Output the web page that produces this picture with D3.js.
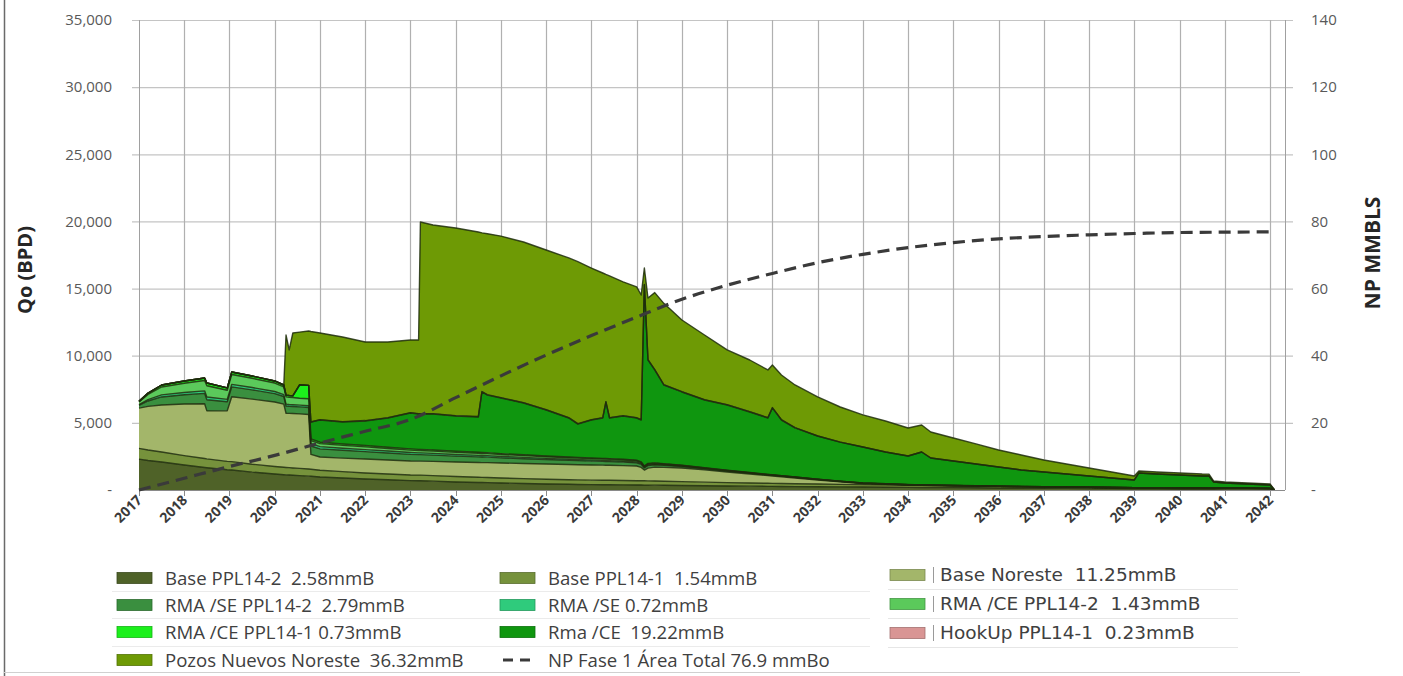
<!DOCTYPE html>
<html><head><meta charset="utf-8">
<script src="https://cdn.jsdelivr.net/npm/d3@7"></script>
<style>
body{margin:0;background:#fff;}
svg{display:block;}
text{font-family:"Open Sans","Noto Sans",sans-serif;}
</style>
</head><body>
<svg id="c" width="1403" height="676"></svg>
<script>
// ---- time grid (decimal years) ----
const t = [2017.0,2017.2,2017.5,2018.0,2018.45,2018.5,2018.95,2019.05,2019.5,2020.0,
2020.2,2020.25,2020.32,2020.4,2020.55,2020.75,2020.8,2021.0,2021.5,2022.0,
2022.5,2023.0,2023.18,2023.22,2023.5,2024.0,2024.5,2024.58,2024.7,2025.0,
2025.5,2026.0,2026.5,2026.7,2027.0,2027.25,2027.32,2027.4,2027.7,2028.0,
2028.1,2028.17,2028.25,2028.4,2028.6,2029.0,2029.5,2030.0,2030.5,2030.9,
2031.0,2031.2,2031.5,2032.0,2032.5,2033.0,2033.5,2034.0,2034.3,2034.5,
2035.0,2035.5,2036.0,2036.5,2037.0,2037.5,2038.0,2038.5,2039.0,2039.1,
2039.5,2040.0,2040.5,2040.65,2040.75,2041.0,2041.5,2042.0,2042.1];

// ---- series (BPD) ----
const basePPL14_2 = [2300,2200,2080,1860,1680,1660,1510,1490,1330,1190,
1140,1130,1120,1100,1070,1030,1020,970,890,820,
760,700,690,690,660,600,560,555,550,520,
485,450,425,415,400,395,393,390,380,370,
368,366,364,360,350,330,315,300,285,272,
270,265,255,245,232,220,208,195,190,185,
175,165,150,140,130,120,110,100,90,88,
82,75,70,68,66,64,62,60,0];
const basePPL14_1 = [800,780,750,700,665,660,625,620,590,560,
550,548,546,543,537,530,528,500,475,450,
435,420,418,418,410,400,388,386,383,375,
362,350,342,340,335,333,332,331,326,320,
319,318,316,312,305,290,270,250,238,228,
225,221,212,200,190,180,170,160,155,152,
145,135,120,112,105,100,95,90,85,84,
82,80,75,74,73,70,65,60,0];
const baseNoreste = [3000,3250,3500,3840,4080,3570,3760,4830,4850,4800,
4700,4040,4040,4050,4060,4065,1100,990,1010,1040,
1040,1040,1040,1040,1060,1085,1100,1100,1102,1115,
1125,1136,1132,1130,1127,1124,1123,1122,1110,1097,
1000,800,950,1030,1030,1020,910,790,670,570,
548,500,430,300,180,80,50,20,10,5,
0,0,0,0,0,0,0,0,0,0,
0,0,0,0,0,0,0,0,0];
const rmaSE_PPL14_2 = [200,400,600,690,770,830,680,740,690,630,
570,540,530,530,520,520,630,605,580,550,
520,495,485,485,470,440,418,415,413,385,
358,330,308,300,286,278,275,272,258,236,
220,165,192,176,154,110,88,72,60,52,
51,48,44,36,30,25,21,17,15,14,
11,8,6,3,2,0,0,0,0,0,
0,0,0,0,0,0,0,0,0];
const rmaSE = [50,100,150,170,190,210,170,185,170,155,
145,135,135,130,130,130,170,165,155,150,
145,135,130,130,128,120,114,113,112,105,
97,90,84,82,78,76,75,74,71,65,
60,45,53,48,42,30,24,20,17,14,
14,13,12,10,8,7,6,4,4,4,
3,2,1,1,0,0,0,0,0,0,
0,0,0,0,0,0,0,0,0];
const rmaCE_PPL14_2 = [200,390,590,690,765,830,685,740,690,630,
570,540,530,530,520,520,230,220,210,200,
190,180,177,177,170,160,152,151,150,140,
130,120,112,109,104,101,100,99,94,86,
80,60,70,64,56,40,32,26,22,19,
18,18,16,13,11,9,7,6,5,5,
4,3,2,1,1,0,0,0,0,0,
0,0,0,0,0,0,0,0,0];
const rmaCE_PPL14_1 = [50,100,150,170,190,210,170,185,170,155,
145,135,135,130,1000,1000,120,110,105,100,
95,90,88,88,82,80,76,76,75,70,
65,60,56,54,52,50,50,50,47,43,
40,30,35,32,28,20,16,12,11,10,
9,9,8,6,6,4,4,3,3,2,
2,2,1,1,0,0,0,0,0,0,
0,0,0,0,0,0,0,0,0];
const rmaCE = [0,0,0,0,0,0,0,0,0,0,
0,0,0,0,0,0,1262,1650,1635,1830,
2175,2670,2632,2632,2680,2625,2632,4504,4285,4140,
3858,3424,2901,2480,2828,3003,4202,3022,3224,3143,
3123,13486,7700,6918,5855,5460,5045,4860,4507,4195,
4975,4136,3643,3210,2913,2675,2364,2125,2448,2013,
1820,1625,1430,1232,1102,970,835,700,570,1098,
1026,965,895,898,461,386,323,250,0];
const hookUp = [0,0,0,0,0,0,0,0,0,0,
0,0,0,0,0,0,0,30,30,30,
30,30,30,30,30,30,30,30,30,30,
30,30,30,30,30,30,30,30,30,30,
30,30,30,30,30,30,30,30,30,30,
30,30,30,0,0,0,0,0,0,0,
0,0,0,0,0,0,0,0,0,0,
0,0,0,0,0,0,0,0,0];
const pozosNuevos = [0,0,0,0,0,0,0,0,0,0,
0,4472,3394,4677,3923,4045,6740,6450,6300,5850,
5630,5410,5480,14270,14040,13970,13740,11820,11980,12030,
11960,11880,11890,12060,11290,10770,9470,10550,9960,9730,
9280,1230,4590,5730,6050,5330,4810,4070,3840,3550,
3170,3320,3170,2910,2610,2390,2310,2090,2010,1940,
1710,1490,1270,1120,890,750,600,450,295,140,
150,150,150,140,70,80,70,80,0];

// cumulative NP (MMBLS)
const npYears = [2017,2018,2019,2020,2021,2022,2023,2024,2025,2026,2027,2028,2029,
2030,2031,2032,2033,2034,2035,2036,2037,2038,2039,2040,2041,2042];
const npValues = [0,3.5,7.0,10.3,14.0,17.5,21.0,27.5,34.0,40.2,46.0,51.5,56.8,
61.0,64.5,67.7,70.2,72.2,73.7,74.8,75.5,76.0,76.4,76.7,76.8,76.9];

const seriesKeys = ["basePPL14_2","basePPL14_1","baseNoreste","rmaSE_PPL14_2","rmaSE",
  "rmaCE_PPL14_2","rmaCE_PPL14_1","rmaCE","hookUp","pozosNuevos"];
const seriesArrays = [basePPL14_2,basePPL14_1,baseNoreste,rmaSE_PPL14_2,rmaSE,
  rmaCE_PPL14_2,rmaCE_PPL14_1,rmaCE,hookUp,pozosNuevos];
const seriesLabels = ["Base PPL14-2  2.58mmB","Base PPL14-1  1.54mmB","Base Noreste  11.25mmB",
  "RMA /SE PPL14-2  2.79mmB","RMA /SE 0.72mmB","RMA /CE PPL14-2  1.43mmB",
  "RMA /CE PPL14-1 0.73mmB","Rma /CE  19.22mmB","HookUp PPL14-1  0.23mmB",
  "Pozos Nuevos Noreste  36.32mmB"];
const seriesColors = ["#4f6228","#76923c","#a3b66a","#3a8f3f","#2fcb7c",
  "#5bc95b","#1cf01c","#0f960f","#d99594","#6e9a05"];
const npLabel = "NP Fase 1 Área Total 76.9 mmBo";

const leftTicks = [0,5000,10000,15000,20000,25000,30000,35000];
const rightTicks = [0,20,40,60,80,100,120,140];
const yearTicks = d3.range(2017, 2043);

// ---- build table ----
const table = t.map((yr,i)=>{
  const row = {yr};
  seriesKeys.forEach((k,j)=> row[k] = seriesArrays[j][i]);
  return row;
});
const stacked = d3.stack().keys(seriesKeys)(table);

const svg = d3.select("#c");
const x = d3.scaleLinear().domain([2017, 2042.33]).range([139, 1285]);
const y = d3.scaleLinear().domain([0, 35000]).range([490, 20]);
const y2 = d3.scaleLinear().domain([0, 140]).range([490, 20]);

// outer frame lines
svg.append("line").attr("x1",4.5).attr("x2",4.5).attr("y1",0).attr("y2",676)
  .attr("stroke","#6a6a6a").attr("stroke-width",1.5);
svg.append("line").attr("x1",4).attr("x2",1300).attr("y1",672.5).attr("y2",672.5)
  .attr("stroke","#d0d0d0").attr("stroke-width",1);

// gridlines
const grid = svg.append("g");
grid.selectAll("line.h").data(leftTicks.slice(1)).join("line")
  .attr("x1",132).attr("x2",1293)
  .attr("y1",d=>y(d)+0.5).attr("y2",d=>y(d)+0.5)
  .attr("stroke","#c4c4c4").attr("stroke-width",1.2);
grid.selectAll("line.v").data(yearTicks.slice(1)).join("line")
  .attr("x1",d=>Math.round(x(d))+0.5).attr("x2",d=>Math.round(x(d))+0.5)
  .attr("y1",20).attr("y2",490)
  .attr("stroke","#b0b0b0").attr("stroke-width",1.2);
svg.append("line").attr("x1",139.5).attr("x2",139.5).attr("y1",20).attr("y2",490).attr("stroke","#a0a0a0");
svg.append("line").attr("x1",1285.5).attr("x2",1285.5).attr("y1",20).attr("y2",490).attr("stroke","#a0a0a0");

// areas
const area = d3.area().x(d=>x(d.data.yr)).y0(d=>y(d[0])).y1(d=>y(d[1]));
const topLine = d3.line().x(d=>x(d.data.yr)).y(d=>y(d[1]));
const layers = svg.append("g");
stacked.forEach((s,i)=>{
  layers.append("path").attr("d",area(s)).attr("fill",seriesColors[i]);
});
stacked.forEach((s,i)=>{
  layers.append("path").attr("d",topLine(s)).attr("fill","none")
    .attr("stroke","#1d2b0c").attr("stroke-width",1.4).attr("stroke-opacity",0.85)
    .attr("stroke-linejoin","round");
});

// bottom axis line + ticks
svg.append("line").attr("x1",139).attr("x2",1285).attr("y1",490.5).attr("y2",490.5).attr("stroke","#8a8a8a");
svg.append("g").selectAll("line").data(yearTicks).join("line")
  .attr("x1",d=>Math.round(x(d))+0.5).attr("x2",d=>Math.round(x(d))+0.5)
  .attr("y1",490).attr("y2",496).attr("stroke","#8a8a8a");

// NP dashed line
const npLine = d3.line().x((d,i)=>x(npYears[i])).y(d=>y2(d)).curve(d3.curveMonotoneX);
svg.append("path").attr("d",npLine(npValues)).attr("fill","none")
  .attr("stroke","#3a3a3a").attr("stroke-width",3.2).attr("stroke-dasharray","12,7");

// left axis labels
const fmt = d3.format(",");
svg.append("g").selectAll("text").data(leftTicks).join("text")
  .attr("x",112).attr("y",d=>y(d)).attr("dy","0.35em").attr("text-anchor","end")
  .attr("font-size",15).attr("fill","#595959")
  .text(d=> d===0 ? "-" : fmt(d));
// right axis labels
svg.append("g").selectAll("text").data(rightTicks).join("text")
  .attr("x",1311).attr("y",d=>y2(d)).attr("dy","0.35em").attr("text-anchor","start")
  .attr("font-size",15).attr("fill","#595959")
  .text(d=> d===0 ? "-" : d);

// x labels
svg.append("g").selectAll("text").data(yearTicks).join("text")
  .attr("transform",d=>`translate(${x(d)+4},${501}) rotate(-45)`)
  .attr("text-anchor","end").attr("font-size",14).attr("font-weight",700)
  .attr("fill","#3a3a3a").text(d=>d);

// axis titles
svg.append("text").attr("transform","translate(32,270) rotate(-90)")
  .attr("text-anchor","middle").attr("font-size",20).attr("font-weight",700)
  .attr("fill","#262626").text("Qo (BPD)");
svg.append("text").attr("transform","translate(1380,253) rotate(-90)")
  .attr("text-anchor","middle").attr("font-size",21).attr("font-weight",700)
  .attr("fill","#262626").text("NP MMBLS");

// legend
const legendPos = [
  {c:0,r:0},{c:1,r:0},{c:2,r:0},
  {c:0,r:1},{c:1,r:1},{c:2,r:1},
  {c:0,r:2},{c:1,r:2},{c:2,r:2},
  {c:0,r:3}
];
const colX = [117,500,890];
const textX = [165,548,940];
const rowYs = [[578,605,632,660],[578,605,632,660],[575,604,633]];
const lg = svg.append("g");
[591,618,646].forEach(yy=>{
  lg.append("line").attr("x1",112).attr("x2",870).attr("y1",yy+0.5).attr("y2",yy+0.5).attr("stroke","#ebebeb");
});
[589,618,647].forEach(yy=>{
  lg.append("line").attr("x1",888).attr("x2",1238).attr("y1",yy+0.5).attr("y2",yy+0.5).attr("stroke","#e6e6e6");
});
legendPos.forEach((p,i)=>{
  const cy = rowYs[p.c][p.r];
  lg.append("rect").attr("x",colX[p.c]).attr("y",cy-5.5).attr("width",35).attr("height",11)
    .attr("fill",seriesColors[i]).attr("stroke",d3.color(seriesColors[i]).darker(0.8)).attr("stroke-width",0.8);
  if(p.c===2){
    lg.append("line").attr("x1",933.5).attr("x2",933.5).attr("y1",cy-8).attr("y2",cy+8).attr("stroke","#9a9a9a");
  }
  lg.append("text").attr("x",textX[p.c]).attr("y",cy).attr("dy","0.35em")
    .attr("font-size",p.c===2?18.5:18.6).attr("fill","#404040")
    .style("font-family",p.c===2?"'DejaVu Sans',sans-serif":null)
    .style("white-space","pre").text(seriesLabels[i]);
});
lg.append("line").attr("x1",503).attr("x2",533).attr("y1",660).attr("y2",660)
  .attr("stroke","#3a3a3a").attr("stroke-width",3).attr("stroke-dasharray","10,7");
lg.append("text").attr("x",548).attr("y",660).attr("dy","0.35em").attr("font-size",18.6)
  .attr("fill","#404040").style("white-space","pre").text(npLabel);
</script>
</body></html>
